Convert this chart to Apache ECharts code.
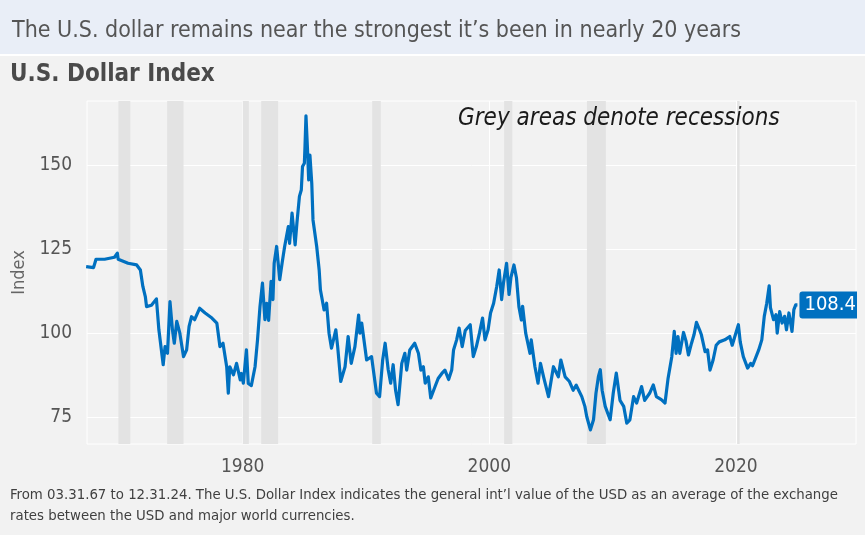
<!DOCTYPE html>
<html>
<head>
<meta charset="utf-8">
<script src="https://cdn.jsdelivr.net/npm/echarts@6/dist/echarts.min.js"></script>
<style>
  html, body { margin: 0; padding: 0; background: #f2f2f2; }
  #chart { width: 865px; height: 535px; }
</style>
</head>
<body>
<div id="chart"></div>
<script>
// 数据：美元指数
var years = [
  1967.3, 1967.9, 1968.1, 1968.8, 1969.6, 1969.83, 1969.9, 1970.7, 1971.4, 1971.7,
  1971.9, 1972.1, 1972.2, 1972.6, 1973.0, 1973.1, 1973.2, 1973.35, 1973.55, 1973.7,
  1973.9, 1974.1, 1974.3, 1974.45, 1974.65, 1974.9, 1975.2, 1975.45, 1975.65, 1975.85,
  1976.1, 1976.5, 1976.95, 1977.5, 1977.9, 1978.15, 1978.4, 1978.7, 1978.83, 1978.95,
  1979.25, 1979.5, 1979.8, 1979.9, 1980.05, 1980.3, 1980.45, 1980.7, 1981.0, 1981.2,
  1981.4, 1981.6, 1981.8, 1981.95, 1982.1, 1982.3, 1982.45, 1982.55, 1982.75, 1983.0,
  1983.2, 1983.4, 1983.7, 1983.8, 1984.0, 1984.25, 1984.4, 1984.6, 1984.75, 1984.85,
  1985.0, 1985.05, 1985.13, 1985.25, 1985.35, 1985.45, 1985.6, 1985.7, 1986.0, 1986.2,
  1986.3, 1986.6, 1986.8, 1987.0, 1987.2, 1987.55, 1987.7, 1987.95, 1988.3, 1988.55,
  1988.8, 1989.1, 1989.4, 1989.5, 1989.65, 1990.05, 1990.45, 1990.85, 1991.1, 1991.35,
  1991.55, 1991.8, 1992.0, 1992.2, 1992.4, 1992.6, 1992.9, 1993.15, 1993.3, 1993.55,
  1993.95, 1994.25, 1994.45, 1994.65, 1994.8, 1995.05, 1995.25, 1995.6, 1995.85, 1996.15,
  1996.4, 1996.7, 1996.95, 1997.1, 1997.35, 1997.55, 1997.8, 1998.05, 1998.45, 1998.7,
  1998.95, 1999.2, 1999.45, 1999.65, 1999.9, 2000.1, 2000.35, 2000.6, 2000.8, 2001.0,
  2001.15, 2001.4, 2001.6, 2001.75, 2002.0, 2002.2, 2002.4, 2002.6, 2002.7, 2002.95,
  2003.3, 2003.4, 2003.7, 2003.95, 2004.15, 2004.4, 2004.8, 2005.2, 2005.6, 2005.8,
  2006.15, 2006.5, 2006.8, 2007.05, 2007.5, 2007.75, 2007.9, 2008.2, 2008.45, 2008.65,
  2008.85, 2009.0, 2009.15, 2009.4, 2009.8, 2010.05, 2010.3, 2010.6, 2010.9, 2011.15,
  2011.4, 2011.7, 2011.95, 2012.35, 2012.6, 2013.0, 2013.3, 2013.55, 2013.95, 2014.25,
  2014.5, 2014.8, 2015.0, 2015.15, 2015.3, 2015.45, 2015.75, 2015.95, 2016.15, 2016.4,
  2016.6, 2016.8, 2017.05, 2017.2, 2017.5, 2017.7, 2017.9, 2018.15, 2018.4, 2018.65,
  2019.1, 2019.5, 2019.7, 2020.2, 2020.35, 2020.6, 2020.95, 2021.2, 2021.35, 2021.85,
  2022.1, 2022.3, 2022.5, 2022.7, 2022.8, 2023.05, 2023.25, 2023.35, 2023.55, 2023.75,
  2023.95, 2024.1, 2024.3, 2024.55, 2024.7, 2024.85, 2024.99
];
var usdIndex = [
  119.8, 119.5, 122.0, 122.0, 122.6, 123.8, 122.0, 120.8, 120.3, 118.8,
  113.9, 110.9, 107.9, 108.3, 110.2, 110.0, 101.0, 101.3, 90.6, 96.0,
  94.0, 109.4, 101.0, 97.0, 103.5, 100.0, 93.0, 95.0, 102.0, 104.9,
  104.0, 107.4, 106.0, 104.5, 103.0, 96.0, 97.0, 90.0, 82.1, 90.0,
  87.6, 91.0, 86.1, 88.0, 85.1, 95.0, 85.0, 84.4, 90.0, 98.0,
  107.9, 114.9, 104.0, 108.9, 103.8, 115.4, 110.0, 120.8, 125.8, 115.9,
  121.0, 125.8, 131.7, 126.7, 135.7, 126.3, 133.0, 140.7, 142.6, 149.6,
  150.6, 155.5, 164.7, 155.0, 145.6, 153.0, 144.6, 133.7, 125.8, 118.8,
  112.9, 106.9, 108.9, 100.0, 95.5, 101.0, 96.0, 85.6, 90.0, 99.0,
  91.0, 96.0, 105.4, 100.0, 103.0, 92.0, 93.0, 82.1, 81.1, 92.0,
  97.0, 89.1, 85.1, 90.6, 82.9, 78.7, 91.0, 94.0, 89.0, 95.0,
  97.0, 94.0, 89.0, 90.0, 85.1, 87.0, 80.7, 84.1, 86.5, 88.0,
  89.0, 86.2, 89.0, 95.0, 98.0, 101.5, 96.0, 100.8, 102.5, 93.0,
  96.0, 100.0, 104.5, 98.0, 101.0, 106.0, 108.9, 113.9, 118.8, 110.0,
  115.0, 120.8, 111.5, 116.5, 120.3, 116.5, 107.9, 103.9, 108.0, 100.0,
  94.0, 98.0, 90.0, 85.1, 91.0, 87.0, 81.1, 90.0, 87.0, 92.0,
  87.0, 85.6, 83.0, 84.5, 81.1, 78.2, 75.2, 71.2, 74.2, 82.1,
  87.1, 89.1, 83.0, 78.2, 74.2, 82.1, 88.1, 80.0, 78.2, 73.2,
  74.2, 81.1, 79.2, 84.1, 80.0, 82.1, 84.6, 81.1, 80.2, 79.2,
  86.6, 93.0, 100.5, 94.0, 99.0, 94.0, 100.2, 97.7, 93.5, 97.0,
  99.5, 103.2, 101.0, 99.5, 94.5, 95.0, 89.0, 92.0, 96.4, 97.4,
  98.0, 99.0, 96.4, 102.5, 97.4, 93.0, 89.6, 91.0, 90.3, 95.0,
  98.0, 105.0, 108.9, 114.1, 107.6, 104.0, 105.5, 100.0, 106.4, 103.0,
  105.0, 101.0, 106.0, 100.5, 107.0, 108.4, 108.4
];
// 衰退期（灰色区域）
var recessionStarts = [1969.92, 1973.87, 1980.0, 1981.5, 1990.5, 2001.2, 2007.92, 2020.1];
var recessionEnds   = [1970.88, 1975.2, 1980.5, 1982.87, 1991.2, 2001.87, 2009.45, 2020.3];
var xTicks = [1980, 2000, 2020];
var yTicks = [75, 100, 125, 150];

var narrow = "'Liberation Sans Narrow', 'DejaVu Sans Condensed', 'Roboto', sans-serif";
var blue = '#0070c0';

var seriesData = [];
for (var i = 0; i < years.length; i++) {
  seriesData.push([years[i], usdIndex[i]]);
}
var areas = [];
for (var j = 0; j < recessionStarts.length; j++) {
  areas.push([{ xAxis: recessionStarts[j] }, { xAxis: recessionEnds[j] }]);
}

var chart = echarts.init(document.getElementById('chart'));
var option = {
  animation: false,
  backgroundColor: '#f2f2f2',
  grid: {
    left: 87, right: 9, top: 101, bottom: 91,
    show: true, borderColor: '#ffffff', borderWidth: 1, backgroundColor: 'transparent'
  },
  graphic: [
    { type: 'rect', left: 0, top: 0, z: -10, shape: { width: 865, height: 54 }, style: { fill: '#e9eef7' } },
    { type: 'rect', left: 0, top: 54, z: -10, shape: { width: 865, height: 2 }, style: { fill: '#ffffff' } },
    { type: 'text', left: 12, top: 20, style: { text: 'The U.S. dollar remains near the strongest it\u2019s been in nearly 20 years', font: '23px ' + narrow, fill: '#555555' } },
    { type: 'text', left: 10, top: 63, style: { text: 'U.S. Dollar Index', font: 'bold 24px ' + narrow, fill: '#4a4a4a' } },
    { type: 'text', left: 458, top: 107, z: 10, style: { text: 'Grey areas denote recessions', font: 'italic 24px ' + narrow, fill: '#1a1a1a' } },
    { type: 'text', left: 10, top: 485, style: { text: 'From 03.31.67 to 12.31.24. The U.S. Dollar Index indicates the general int\u2019l value of the USD as an average of the exchange\nrates between the USD and major world currencies.', font: '14.8px ' + narrow, fill: '#404040', lineHeight: 21 } },
    { type: 'rect', left: 857, top: 280, z: 100, shape: { width: 8, height: 50 }, style: { fill: '#f2f2f2' } }
  ],
  xAxis: {
    type: 'value',
    min: 1967.37, max: 2029.74,
    axisLine: { show: false },
    axisTick: { show: false, customValues: xTicks },
    axisLabel: {
      customValues: xTicks, color: '#555555', fontFamily: narrow, fontSize: 19, margin: 14,
      formatter: function (v) { return String(v); }
    },
    splitLine: { show: true, lineStyle: { color: '#ffffff', width: 1 } }
  },
  yAxis: {
    type: 'value',
    min: 67, max: 169.1,
    name: 'Index', nameLocation: 'middle', nameGap: 58, nameRotate: 90,
    nameTextStyle: { color: '#666666', fontFamily: narrow, fontSize: 18 },
    axisLine: { show: false },
    axisTick: { show: false, customValues: yTicks },
    axisLabel: { customValues: yTicks, color: '#555555', fontFamily: narrow, fontSize: 19, margin: 15 },
    splitLine: { show: true, lineStyle: { color: '#ffffff', width: 1 } }
  },
  series: [
    {
      name: 'recessions', type: 'line', data: [], z: 1, silent: true,
      markArea: { silent: true, itemStyle: { color: '#e3e3e3' }, data: areas }
    },
    {
      name: 'U.S. Dollar Index', type: 'line', z: 5,
      data: seriesData, showSymbol: false, symbol: 'none',
      lineStyle: { color: blue, width: 3.2, join: 'round' },
      endLabel: {
        show: true, formatter: '108.4', color: '#ffffff', backgroundColor: blue,
        fontFamily: narrow, fontSize: 20, padding: [4, 5, 3, 5], borderRadius: 3, distance: 2
      }
    }
  ]
};
chart.setOption(option);
</script>
</body>
</html>
